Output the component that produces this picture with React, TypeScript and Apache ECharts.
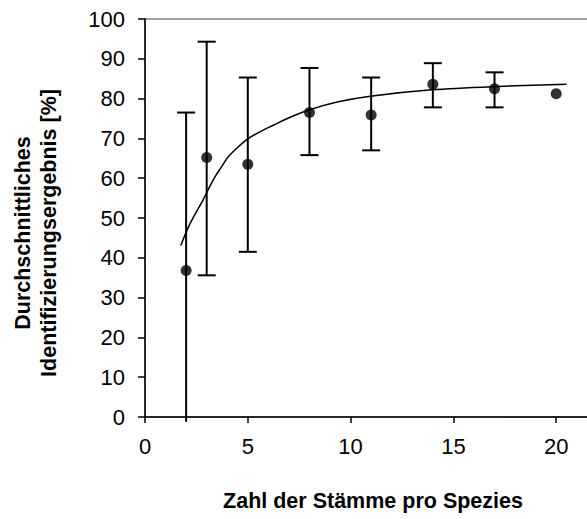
import React, { useEffect, useRef } from "react";
import * as echarts from "echarts";

const strainCounts = [2, 3, 5, 8, 11, 14, 17, 20];
const meanResults = [36.8, 65.2, 63.5, 76.5, 75.9, 83.6, 82.5, 81.2];
const errorHigh = [76.5, 94.3, 85.3, 87.7, 85.3, 88.9, 86.6, null];
const errorLow = [-1.2, 35.6, 41.5, 65.8, 67.0, 77.8, 77.8, null];

const trendX = [1.74, 2.19, 2.84, 3.08, 3.41, 3.73, 4.05, 4.54, 5.0, 5.68, 6.24, 7.06, 8.0, 9.4, 10.95, 13.95, 16.87, 20.5];
const trendY = [43.1, 48.6, 54.7, 57.2, 60.4, 62.9, 65.4, 67.9, 69.9, 71.9, 73.3, 75.3, 77.2, 79.2, 80.6, 82.2, 83.0, 83.6];

const xTitle = "Zahl der Stämme pro Spezies";
const yTitleLines = ["Durchschnittliches", "Identifizierungsergebnis [%]"];

const FONT = "'Liberation Sans', Arial, Helvetica, sans-serif";

export default function App() {
  const ref = useRef<HTMLDivElement>(null);

  useEffect(() => {
    if (!ref.current) return;
    const chart = echarts.init(ref.current, null, { renderer: "svg" });

    const errData = strainCounts
      .map((x, i) => [x, errorLow[i], errorHigh[i]])
      .filter((d) => d[1] !== null && d[2] !== null);

    const option: any = {
      animation: false,
      backgroundColor: "#ffffff",
      textStyle: { fontFamily: FONT },
      grid: {
        left: 145,
        top: 19,
        width: 514,
        height: 398,
        show: true,
        borderColor: "#808080",
        borderWidth: 1.5,
        backgroundColor: "transparent",
      },
      xAxis: {
        type: "value",
        min: 0,
        max: 25,
        interval: 5,
        axisLine: { show: true, onZero: false, lineStyle: { color: "#000", width: 1.5 } },
        axisTick: { show: true, inside: false, length: 6, lineStyle: { color: "#000", width: 1.5 } },
        axisLabel: { color: "#000", fontSize: 22, fontFamily: FONT, margin: 18, showMaxLabel: false },
        splitLine: { show: false },
      },
      yAxis: {
        type: "value",
        min: 0,
        max: 100,
        interval: 10,
        axisLine: { show: true, onZero: false, lineStyle: { color: "#000", width: 1.5 } },
        axisTick: { show: true, inside: false, length: 7, lineStyle: { color: "#000", width: 1.5 } },
        axisLabel: { color: "#000", fontSize: 22, fontFamily: FONT, margin: 20 },
        splitLine: { show: false },
      },
      graphic: [
        {
          type: "text",
          x: 373,
          y: 501,
          style: {
            text: xTitle,
            font: `bold 21.5px ${FONT}`,
            fill: "#000",
            align: "center",
            verticalAlign: "middle",
          },
        },
        {
          type: "text",
          x: 36,
          y: 233,
          rotation: Math.PI / 2,
          style: {
            text: yTitleLines.join("\n"),
            font: `bold 21.5px ${FONT}`,
            lineHeight: 26,
            fill: "#000",
            align: "center",
            verticalAlign: "middle",
          },
        },
      ],
      series: [
        {
          type: "custom",
          clip: false,
          data: errData,
          renderItem: (params: any, api: any) => {
            const x = api.value(0);
            const lo = api.value(1);
            const hi = api.value(2);
            const pLo = api.coord([x, lo]);
            const pHi = api.coord([x, hi]);
            const half = 9;
            const style = { stroke: "#000", lineWidth: 2 };
            const children: any[] = [
              { type: "line", shape: { x1: pHi[0], y1: pHi[1], x2: pLo[0], y2: pLo[1] }, style },
              { type: "line", shape: { x1: pHi[0] - half, y1: pHi[1], x2: pHi[0] + half, y2: pHi[1] }, style },
            ];
            if (lo >= 0) {
              children.push({
                type: "line",
                shape: { x1: pLo[0] - half, y1: pLo[1], x2: pLo[0] + half, y2: pLo[1] },
                style,
              });
            }
            return { type: "group", children };
          },
          z: 2,
        },
        {
          type: "line",
          data: trendX.map((x, i) => [x, trendY[i]]),
          showSymbol: false,
          smooth: 0.3,
          lineStyle: { color: "#000", width: 1.5 },
          z: 3,
        },
        {
          type: "scatter",
          data: strainCounts.map((x, i) => [x, meanResults[i]]),
          symbol: "circle",
          symbolSize: 11,
          itemStyle: { color: "#000" },
          z: 4,
        },
      ],
    };

    chart.setOption(option);
    return () => chart.dispose();
  }, []);

  return (
    <div
      ref={ref}
      style={{ position: "fixed", left: 0, top: 0, width: 680, height: 519, background: "#fff" }}
    />
  );
}
